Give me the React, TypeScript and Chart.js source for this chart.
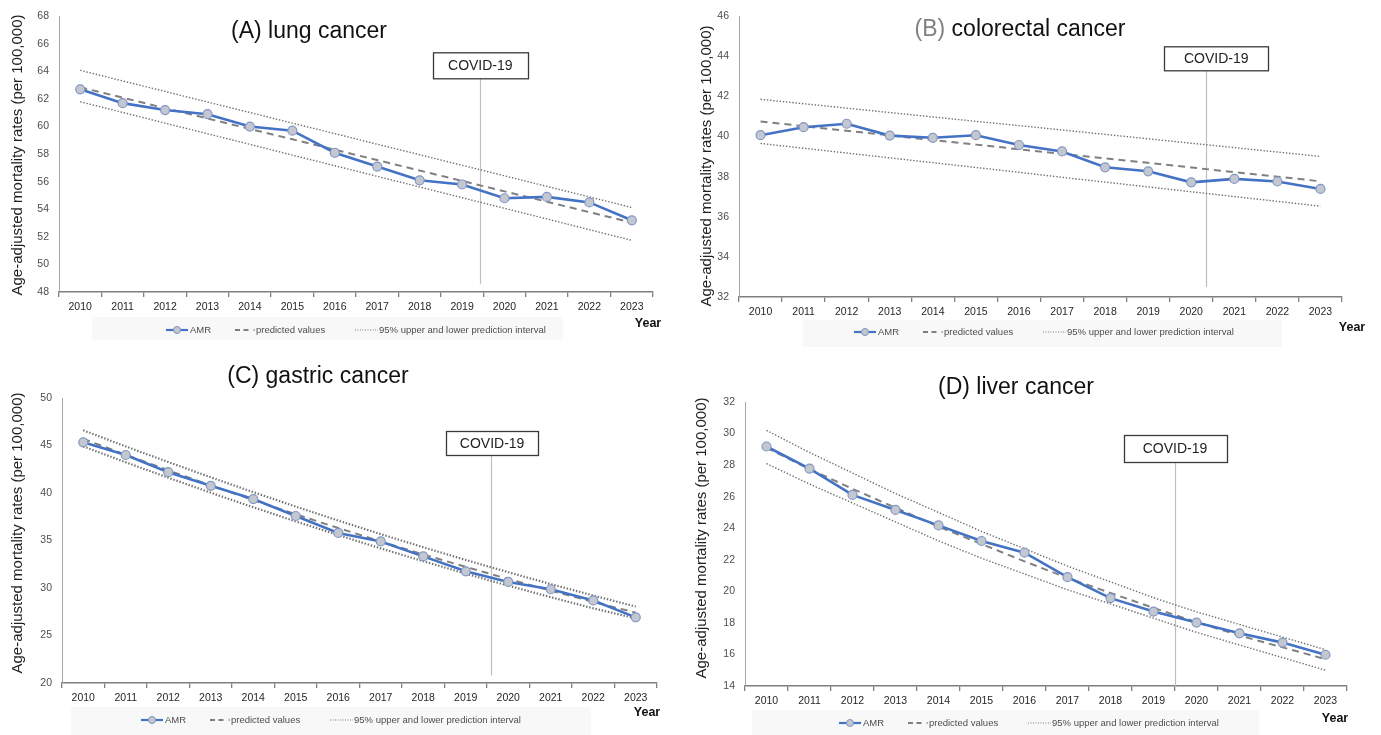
import React, { useEffect, useRef } from "react";
import { Chart, registerables } from "chart.js";

Chart.register(...registerables);

// ---------- data ----------
const years = ["2010", "2011", "2012", "2013", "2014", "2015", "2016", "2017", "2018", "2019", "2020", "2021", "2022", "2023"];

const lungAMR = [62.7, 61.7, 61.2, 60.9, 60.0, 59.7, 58.1, 57.1, 56.1, 55.8, 54.8, 54.9, 54.5, 53.2];
const lungPred = [62.85, 62.1, 61.34, 60.59, 59.83, 59.08, 58.32, 57.57, 56.81, 56.06, 55.3, 54.55, 53.79, 53.04];
const lungUpper = [64.08, 63.31, 62.55, 61.78, 61.02, 60.25, 59.49, 58.72, 57.96, 57.19, 56.43, 55.66, 54.9, 54.13];
const lungLower = [61.8, 61.03, 60.25, 59.48, 58.71, 57.93, 57.16, 56.39, 55.62, 54.84, 54.07, 53.3, 52.52, 51.75];

const crcAMR = [40.07, 40.47, 40.64, 40.05, 39.94, 40.07, 39.58, 39.26, 38.47, 38.27, 37.72, 37.89, 37.76, 37.39];
const crcPred = [40.75, 40.52, 40.29, 40.06, 39.83, 39.6, 39.37, 39.14, 38.91, 38.69, 38.46, 38.23, 38.0, 37.77];
const crcUpper = [41.86, 41.64, 41.42, 41.2, 40.98, 40.76, 40.55, 40.33, 40.11, 39.89, 39.67, 39.45, 39.23, 39.01];
const crcLower = [39.66, 39.42, 39.18, 38.94, 38.7, 38.46, 38.22, 37.97, 37.73, 37.49, 37.25, 37.01, 36.77, 36.53];

const gasAMR = [45.33, 44.0, 42.19, 40.76, 39.36, 37.58, 35.8, 34.9, 33.33, 31.76, 30.64, 29.87, 28.69, 26.91];
const gasPred = [45.7, 44.02, 42.39, 40.8, 39.26, 37.76, 36.31, 34.9, 33.54, 32.22, 30.95, 29.72, 28.54, 27.4];
const gasUpper = [46.6, 44.9, 43.26, 41.65, 40.09, 38.57, 37.1, 35.67, 34.29, 32.95, 31.66, 30.41, 29.21, 28.05];
const gasLower = [44.9, 43.23, 41.61, 40.03, 38.5, 37.01, 35.57, 34.17, 32.82, 31.51, 30.25, 29.03, 27.86, 26.8];

const livAMR = [29.18, 27.78, 26.11, 25.16, 24.18, 23.19, 22.45, 20.9, 19.57, 18.72, 18.02, 17.34, 16.75, 15.98];
const livPred = [29.1, 27.75, 26.5, 25.3, 24.1, 23.0, 21.9, 20.85, 19.9, 18.95, 18.05, 17.2, 16.45, 15.7];
const livUpper = [30.2, 28.8, 27.5, 26.2, 25.0, 23.8, 22.7, 21.6, 20.6, 19.6, 18.7, 17.9, 17.1, 16.3];
const livLower = [28.1, 26.8, 25.6, 24.4, 23.2, 22.1, 21.1, 20.1, 19.2, 18.3, 17.4, 16.6, 15.8, 15.0];

const yRanges = {
  A: [48, 68, 2],
  B: [32, 46, 2],
  C: [20, 50, 5],
  D: [14, 32, 2],
};

// COVID-19 marker position in category units (index from 2010) and bottom value of the line
const covidLine = { A: 9.43, B: 10.34, C: 9.6, D: 9.5 };
const covidBoxCenter = { A: 9.43, B: 10.58, C: 9.62, D: 9.5 };
const covidLineBottom = { A: 48.6, B: 32.5, C: 20.8, D: 14 };

const legendLabels = ["AMR", "predicted values", "95% upper and lower prediction interval"];
const yTitle = "Age-adjusted mortality rates (per 100,000)";
const xTitle = "Year";
const covidLabel = "COVID-19";

const SANS = '"Liberation Sans", Arial, sans-serif';

type Panel = {
  key: "A" | "B" | "C" | "D";
  left: number; top: number; width: number; height: number;
  area: { l: number; r: number; t: number; b: number };
  amr: number[]; pred: number[]; upper: number[]; lower: number[];
  title: [string, string][];
  titleX: number; titleY: number;
  yTitleX: number; yTitleY: number;
  yearX: number; yearY: number;
  legendX: number; legendY: number; legendBox: [number, number, number, number];
  boxTop: number; boxW: number; boxH: number;
  dotWidth: number;
};

const panels: Panel[] = [
  {
    key: "A", left: 0, top: 0, width: 690, height: 350,
    area: { l: 59, r: 653, t: 11, b: 292 },
    amr: lungAMR, pred: lungPred, upper: lungUpper, lower: lungLower,
    title: [["(A) lung cancer", "#111"]], titleX: 309, titleY: 32,
    yTitleX: 18, yTitleY: 155, yearX: 648, yearY: 324,
    legendX: 166, legendY: 330, legendBox: [92, 317, 471, 23],
    boxTop: 36, boxW: 95, boxH: 26, dotWidth: 1.4,
  },
  {
    key: "B", left: 690, top: 0, width: 691, height: 350,
    area: { l: 49, r: 652, t: 15, b: 297 },
    amr: crcAMR, pred: crcPred, upper: crcUpper, lower: crcLower,
    title: [["(B) ", "#808080"], ["colorectal cancer", "#111"]], titleX: 330, titleY: 30,
    yTitleX: 17, yTitleY: 166, yearX: 662, yearY: 328,
    legendX: 164, legendY: 332, legendBox: [113, 320, 479, 27],
    boxTop: 30, boxW: 104, boxH: 24, dotWidth: 1.4,
  },
  {
    key: "C", left: 0, top: 350, width: 690, height: 385,
    area: { l: 62, r: 657, t: 48, b: 333 },
    amr: gasAMR, pred: gasPred, upper: gasUpper, lower: gasLower,
    title: [["(C) gastric cancer", "#111"]], titleX: 318, titleY: 27,
    yTitleX: 18, yTitleY: 183, yearX: 647, yearY: 363,
    legendX: 141, legendY: 370, legendBox: [71, 357, 520, 28],
    boxTop: 33, boxW: 92, boxH: 24, dotWidth: 2.2,
  },
  {
    key: "D", left: 690, top: 350, width: 691, height: 385,
    area: { l: 55, r: 657, t: 52, b: 336 },
    amr: livAMR, pred: livPred, upper: livUpper, lower: livLower,
    title: [["(D) liver cancer", "#111"]], titleX: 326, titleY: 38,
    yTitleX: 12, yTitleY: 188, yearX: 645, yearY: 369,
    legendX: 149, legendY: 373, legendBox: [62, 360, 507, 25],
    boxTop: 33, boxW: 103, boxH: 27, dotWidth: 1.4,
  },
];

const Y_AXIS_W = 40;

const decorPlugin = {
  id: "decor",
  beforeDatasetsDraw(chart: any, _args: any, opts: any) {
    const p: Panel = opts.panel;
    if (!p) return;
    const ctx = chart.ctx;
    const xs = chart.scales.x;
    const ys = chart.scales.y;
    const lx = xs.getPixelForValue(covidLine[p.key]);
    const yTop = chart.chartArea.top + p.boxTop + p.boxH;
    const yBot = ys.getPixelForValue(covidLineBottom[p.key]);
    ctx.save();
    ctx.strokeStyle = "#bfbfbf";
    ctx.lineWidth = 1.2;
    ctx.beginPath();
    ctx.moveTo(Math.round(lx) + 0.5, yTop);
    ctx.lineTo(Math.round(lx) + 0.5, yBot);
    ctx.stroke();
    ctx.restore();
  },
  afterDraw(chart: any, _args: any, opts: any) {
    const p: Panel = opts.panel;
    if (!p) return;
    const ctx = chart.ctx;
    const xs = chart.scales.x;
    ctx.save();

    // COVID box
    const bx = xs.getPixelForValue(covidBoxCenter[p.key]);
    const by = chart.chartArea.top + p.boxTop;
    ctx.fillStyle = "#ffffff";
    ctx.strokeStyle = "#3a3a3a";
    ctx.lineWidth = 1.3;
    ctx.fillRect(Math.round(bx - p.boxW / 2), by, p.boxW, p.boxH);
    ctx.strokeRect(Math.round(bx - p.boxW / 2) + 0.5, by + 0.5, p.boxW, p.boxH);
    ctx.fillStyle = "#222";
    ctx.font = `14px ${SANS}`;
    ctx.textAlign = "center";
    ctx.textBaseline = "middle";
    ctx.fillText(covidLabel, bx, by + p.boxH / 2 + 1);

    // Title
    ctx.font = `23px ${SANS}`;
    const total = p.title.reduce((s, [t]) => s + ctx.measureText(t).width, 0);
    let tx = p.titleX - total / 2;
    ctx.textAlign = "left";
    for (const [t, c] of p.title) {
      ctx.fillStyle = c;
      ctx.fillText(t, tx, p.titleY);
      tx += ctx.measureText(t).width;
    }

    // Y title
    ctx.save();
    ctx.translate(p.yTitleX, p.yTitleY);
    ctx.rotate(-Math.PI / 2);
    ctx.font = `15px ${SANS}`;
    ctx.fillStyle = "#1f1f1f";
    ctx.textAlign = "center";
    ctx.textBaseline = "middle";
    ctx.fillText(yTitle, 0, 0);
    ctx.restore();

    // Year
    ctx.font = `bold 12.5px ${SANS}`;
    ctx.fillStyle = "#111";
    ctx.textAlign = "center";
    ctx.textBaseline = "middle";
    ctx.fillText(xTitle, p.yearX, p.yearY);

    // Legend
    const [lbx, lby, lbw, lbh] = p.legendBox;
    ctx.fillStyle = "#f9f8f8";
    ctx.fillRect(lbx, lby, lbw, lbh);
    const x0 = p.legendX;
    const y = p.legendY;
    ctx.textAlign = "left";
    ctx.font = `9.5px ${SANS}`;
    // AMR
    ctx.strokeStyle = "#4472C4";
    ctx.lineWidth = 2.2;
    ctx.setLineDash([]);
    ctx.beginPath();
    ctx.moveTo(x0, y);
    ctx.lineTo(x0 + 22, y);
    ctx.stroke();
    ctx.beginPath();
    ctx.arc(x0 + 11, y, 3.5, 0, Math.PI * 2);
    ctx.fillStyle = "#c3c7cf";
    ctx.fill();
    ctx.strokeStyle = "#7f93c0";
    ctx.lineWidth = 1;
    ctx.stroke();
    ctx.fillStyle = "#4d4d4d";
    ctx.fillText(legendLabels[0], x0 + 24, y);
    // predicted
    const x1 = x0 + 69;
    ctx.strokeStyle = "#7f7f7f";
    ctx.lineWidth = 2;
    ctx.setLineDash([5, 3.5]);
    ctx.beginPath();
    ctx.moveTo(x1, y);
    ctx.lineTo(x1 + 17, y);
    ctx.stroke();
    ctx.setLineDash([]);
    ctx.fillStyle = "#7f7f7f";
    ctx.fillRect(x1 + 18.5, y - 0.7, 1.4, 1.4);
    ctx.fillStyle = "#4d4d4d";
    ctx.fillText(legendLabels[1], x1 + 21, y);
    // interval
    const x2 = x0 + 189;
    ctx.strokeStyle = "#7f7f7f";
    ctx.lineWidth = 1;
    ctx.setLineDash([1, 1.5]);
    ctx.beginPath();
    ctx.moveTo(x2, y);
    ctx.lineTo(x2 + 23, y);
    ctx.stroke();
    ctx.setLineDash([]);
    ctx.fillStyle = "#4d4d4d";
    ctx.fillText(legendLabels[2], x2 + 24, y);

    ctx.restore();
  },
};

function PanelChart({ p }: { p: Panel }) {
  const ref = useRef<HTMLCanvasElement | null>(null);
  useEffect(() => {
    if (!ref.current) return;
    const [yMin, yMax, yStep] = yRanges[p.key];
    const chart = new Chart(ref.current, {
      type: "line",
      data: {
        labels: years,
        datasets: [
          {
            label: legendLabels[0],
            data: p.amr,
            borderColor: "#4472C4",
            borderWidth: 2.6,
            pointRadius: 4.5,
            pointBackgroundColor: "#c3c7cf",
            pointBorderColor: "#8497c4",
            pointBorderWidth: 1.2,
            tension: 0,
          },
          {
            label: legendLabels[1],
            data: p.pred,
            borderColor: "#808080",
            borderWidth: 2,
            borderDash: [7, 5],
            pointRadius: 0,
            tension: 0,
          },
          {
            label: legendLabels[2],
            data: p.upper,
            borderColor: "#6f6f6f",
            borderWidth: p.dotWidth,
            borderDash: [1.4, 1.8],
            pointRadius: 0,
            tension: 0,
          },
          {
            label: legendLabels[2] + " (lower)",
            data: p.lower,
            borderColor: "#6f6f6f",
            borderWidth: p.dotWidth,
            borderDash: [1.4, 1.8],
            pointRadius: 0,
            tension: 0,
          },
        ],
      },
      options: {
        responsive: false,
        animation: false,
        events: [],
        layout: {
          padding: {
            left: p.area.l - Y_AXIS_W,
            right: p.width - p.area.r,
            top: p.area.t,
            bottom: 0,
          },
        },
        plugins: {
          legend: { display: false },
          title: { display: false },
          tooltip: { enabled: false },
          decor: { panel: p },
        } as any,
        scales: {
          x: {
            type: "category",
            offset: true,
            grid: {
              offset: true,
              drawOnChartArea: false,
              drawTicks: true,
              tickLength: 5,
              color: "#7f7f7f",
              lineWidth: 1.3,
            },
            border: { color: "#7f7f7f", width: 1.5 },
            ticks: {
              font: { family: SANS, size: 10.5 },
              color: "#262626",
              padding: 4,
              maxRotation: 0,
              autoSkip: false,
            },
            afterFit: (s: any) => {
              s.height = p.height - p.area.b;
            },
          },
          y: {
            min: yMin,
            max: yMax,
            ticks: {
              stepSize: yStep,
              font: { family: SANS, size: 10.5 },
              color: "#4d4d4d",
              padding: 10,
            },
            grid: { drawOnChartArea: false, drawTicks: false },
            border: { color: "#a6a6a6", width: 1 },
            afterFit: (s: any) => {
              s.width = Y_AXIS_W;
            },
          },
        },
      },
      plugins: [decorPlugin as any],
    });
    return () => chart.destroy();
  }, [p]);

  return (
    <div style={{ position: "absolute", left: p.left, top: p.top, width: p.width, height: p.height }}>
      <canvas ref={ref} width={p.width} height={p.height} style={{ width: p.width, height: p.height, display: "block" }} />
    </div>
  );
}

export default function App() {
  return (
    <div style={{ position: "absolute", left: 0, top: 0, width: 1381, height: 735, background: "#ffffff", overflow: "hidden" }}>
      {panels.map((p) => (
        <PanelChart key={p.key} p={p} />
      ))}
    </div>
  );
}
